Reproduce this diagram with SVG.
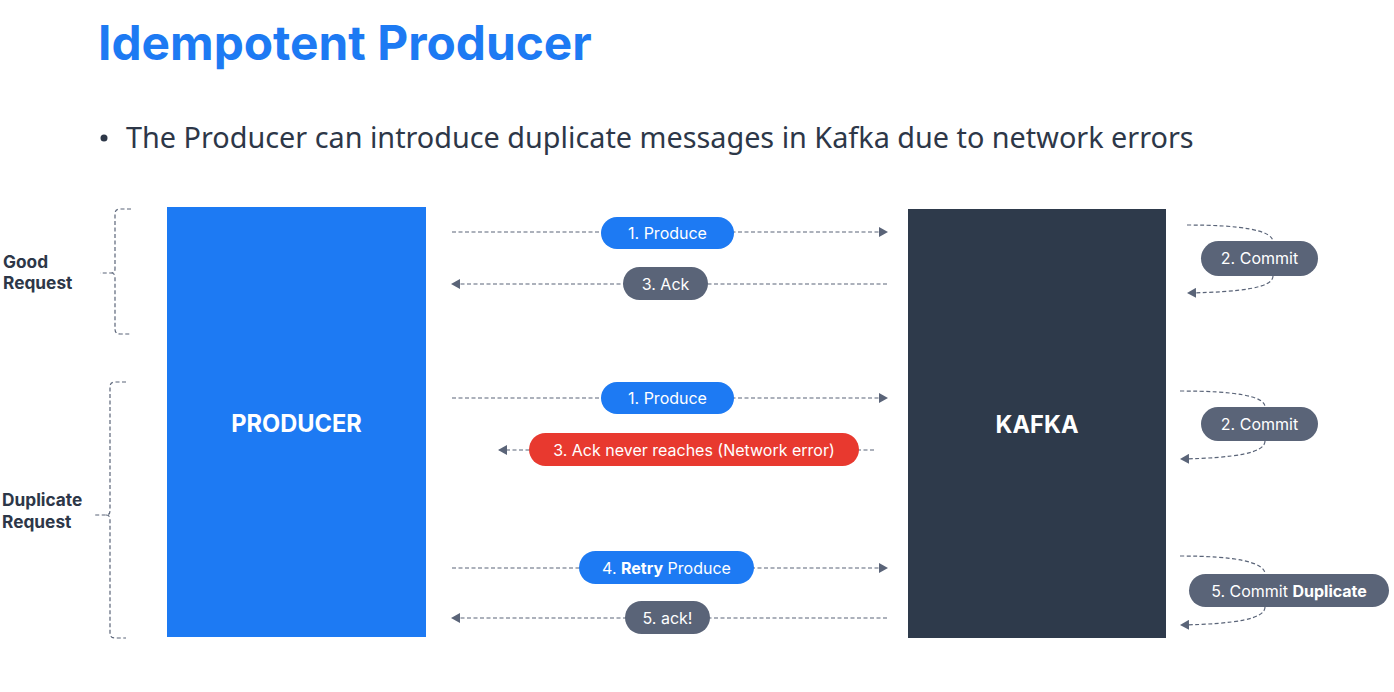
<svg xmlns="http://www.w3.org/2000/svg" width="1394" height="692" viewBox="0 0 1394 692">
<style>
.title{font-family:Inter,"Liberation Sans",sans-serif;font-weight:700;font-size:47.8px;fill:#1d7af3}
.bullet{font-family:"Noto Sans","Liberation Sans",sans-serif;font-size:28.8px;fill:#2d3748}
.side{font-family:Inter,"Liberation Sans",sans-serif;font-weight:700;font-size:17.3px;fill:#2d3748}
.big{font-family:Inter,"Liberation Sans",sans-serif;font-weight:700;font-size:23.6px;fill:#fff}
.pt{font-family:Inter,"Liberation Sans",sans-serif;font-size:16px;fill:#fff}
.blue{fill:#1d7af3}
.gray{fill:#5a6478}
.red{fill:#e8392f}
.ln{fill:none;stroke:#5a6478;stroke-width:1.2;stroke-dasharray:4 2.5}
</style>
<defs>
<marker id="ah" markerWidth="10" markerHeight="10" refX="8" refY="5" orient="auto" markerUnits="userSpaceOnUse">
<path d="M0,0 L9,5 L0,10 Z" fill="#5a6478"/>
</marker>
</defs>
<rect width="1394" height="692" fill="#fff"/>
<g id="title"><text class="title" x="98" y="60">Idempotent Producer</text></g>
<g id="bullet">
<circle cx="104" cy="138" r="3.5" fill="#2d3748"/>
<text class="bullet" x="126" y="148">The Producer can introduce duplicate messages in Kafka due to network errors</text>
</g>
<g id="connectors">
<line class="ln" x1="452" y1="232" x2="887" y2="232" marker-end="url(#ah)"/>
<line class="ln" x1="887" y1="284" x2="452" y2="284" marker-end="url(#ah)"/>
<line class="ln" x1="452" y1="398" x2="887" y2="398" marker-end="url(#ah)"/>
<line class="ln" x1="874" y1="450" x2="499" y2="450" marker-end="url(#ah)"/>
<line class="ln" x1="452" y1="568" x2="887" y2="568" marker-end="url(#ah)"/>
<line class="ln" x1="887" y1="618" x2="452" y2="618" marker-end="url(#ah)"/>
<path class="ln" d="M1187,225 C1240,225 1273,230 1273,242"/>
<path class="ln" d="M1273,276 C1273,288 1240,292 1188,293" marker-end="url(#ah)"/>
<path class="ln" d="M1180,391 C1235,391 1265,396 1265,407"/>
<path class="ln" d="M1265,441 C1265,453 1235,458 1181,459" marker-end="url(#ah)"/>
<path class="ln" d="M1180,556 C1235,556 1265,562 1265,574"/>
<path class="ln" d="M1265,607 C1265,619 1235,624 1181,625" marker-end="url(#ah)"/>
<path class="ln" d="M131,209 L120,209 Q115,209 115,214 L115,269 Q115,273 111,273 L100,273 M111,273 Q115,273 115,277 L115,329 Q115,334 120,334 L131,334"/>
<path class="ln" d="M126,382 L115,382 Q110,382 110,387 L110,511 Q110,515 106,515 L95,515 M106,515 Q110,515 110,519 L110,633 Q110,638 115,638 L126,638"/>
</g>
<g id="good-label"><text class="side" x="3" y="268">Good</text><text class="side" x="3" y="289">Request</text></g>
<g id="dup-label"><text class="side" x="2" y="506">Duplicate</text><text class="side" x="2" y="528">Request</text></g>
<g id="producer"><rect x="167" y="207" width="259" height="430" class="blue"/><text class="big" x="296.5" y="432" text-anchor="middle">PRODUCER</text></g>
<g id="kafka"><rect x="908" y="209" width="258" height="429" fill="#2e3a4b"/><text class="big" x="1037" y="433" text-anchor="middle">KAFKA</text></g>
<g id="p1"><rect x="601" y="217" width="133" height="32" rx="16" class="blue"/><text class="pt" x="667.5" y="239" text-anchor="middle">1. Produce</text></g>
<g id="a1"><rect x="623" y="267" width="85" height="33" rx="16.5" class="gray"/><text class="pt" x="665.5" y="289.5" text-anchor="middle">3. Ack</text></g>
<g id="c1"><rect x="1201" y="241" width="117" height="35" rx="17.5" class="gray"/><text class="pt" x="1259.5" y="264" text-anchor="middle">2. Commit</text></g>
<g id="p2"><rect x="601" y="382" width="133" height="32" rx="16" class="blue"/><text class="pt" x="667.5" y="404" text-anchor="middle">1. Produce</text></g>
<g id="a2"><rect x="529" y="433" width="330" height="33" rx="16.5" class="red"/><text class="pt" x="694" y="455.5" text-anchor="middle">3. Ack never reaches (Network error)</text></g>
<g id="c2"><rect x="1201" y="407" width="117" height="34" rx="17" class="gray"/><text class="pt" x="1259.5" y="429.5" text-anchor="middle">2. Commit</text></g>
<g id="p3"><rect x="579" y="551" width="175" height="33" rx="16.5" class="blue"/><text class="pt" x="666.5" y="573.5" text-anchor="middle">4. <tspan font-weight="700">Retry</tspan> Produce</text></g>
<g id="a3"><rect x="625" y="601" width="85" height="33" rx="16.5" class="gray"/><text class="pt" x="667.5" y="623.5" text-anchor="middle">5. ack!</text></g>
<g id="c3"><rect x="1189" y="574" width="200" height="33" rx="16.5" class="gray"/><text class="pt" x="1289" y="596.5" text-anchor="middle">5. Commit <tspan font-weight="700">Duplicate</tspan></text></g>
</svg>
